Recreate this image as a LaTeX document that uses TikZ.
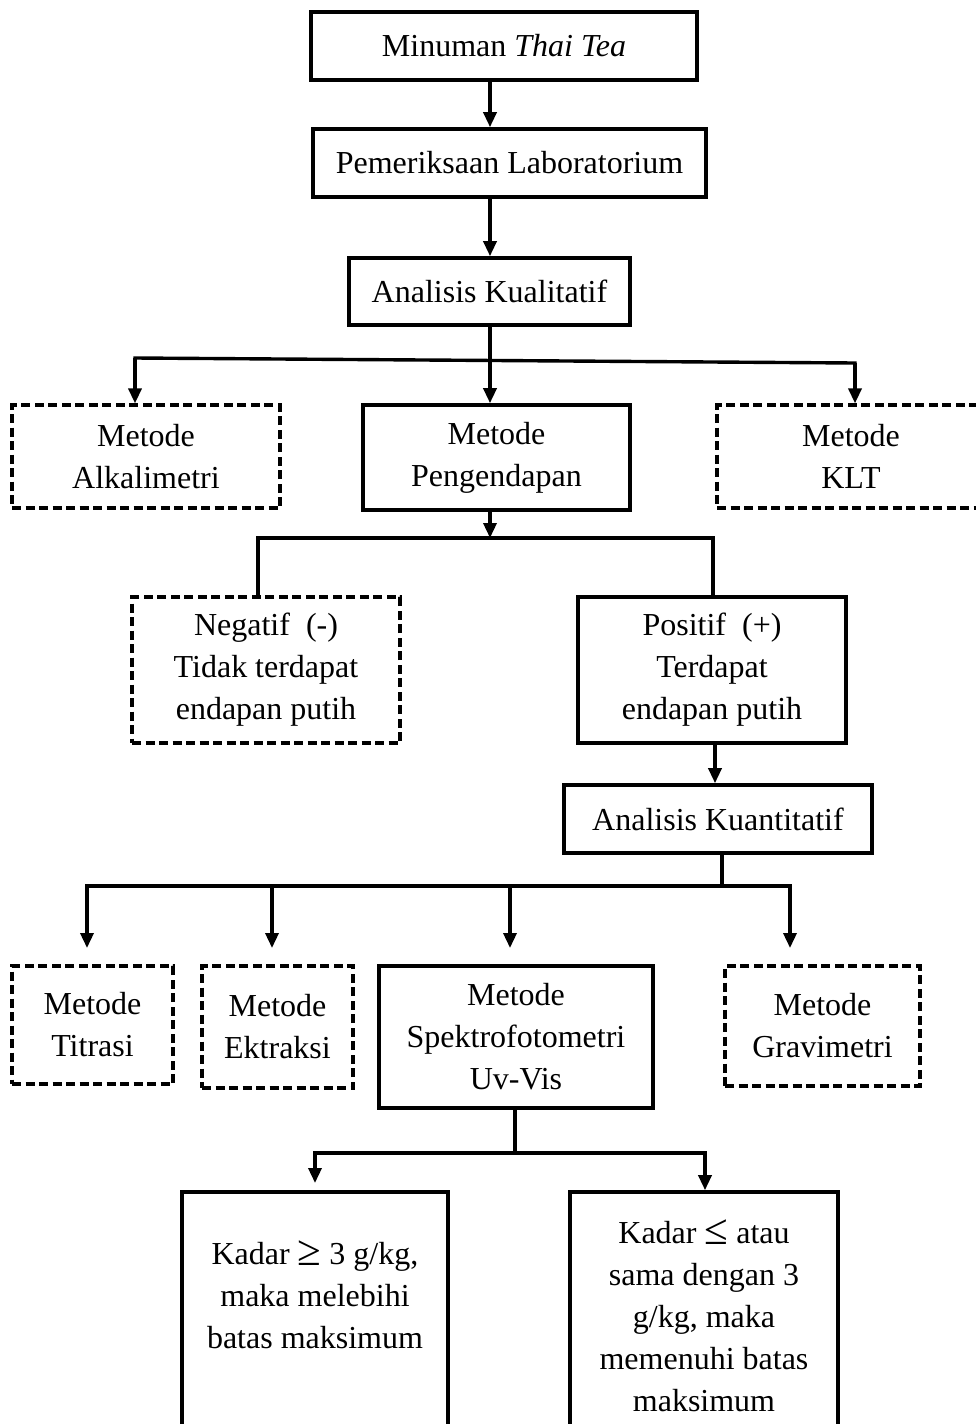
\documentclass[tikz,border=0pt]{standalone}
\usepackage{fontspec}
\usepackage{graphicx}
\setmainfont{Liberation Serif}
\usetikzlibrary{arrows.meta}
\newcommand{\bigsym}[1]{\raisebox{-1pt}{\scalebox{1.35}{#1}}}
\begin{document}
\begin{tikzpicture}[x=1pt,y=-1pt,
  box/.style={draw, line width=3.6pt, align=center, inner sep=0pt,
    font=\fontsize{32}{42}\selectfont},
  dbox/.style={box, line width=3.2pt, dash pattern=on 9pt off 4.5pt},
  conn/.style={line width=3.4pt},
  arr/.style={conn, -{Triangle[length=15pt,width=13pt]}}]
\clip (0,0) rectangle (976,1424);
\fill[white] (0,0) rectangle (976,1424);
% nodes
\node[box, minimum width=386pt, minimum height=68pt] (n1) at (504,46) {Minuman \textit{Thai Tea}};
\node[box, minimum width=393pt, minimum height=68pt] (n2) at (509.5,163) {Pemeriksaan Laboratorium};
\node[box, minimum width=281pt, minimum height=67pt] (n3) at (489.5,291.5) {Analisis Kualitatif};
\node[dbox, minimum width=268pt, minimum height=103pt] (alk) at (146,456.5) {Metode\\Alkalimetri};
\node[box, minimum width=267pt, minimum height=105pt] (pen) at (496.5,457.5) {Metode\\Pengendapan};
\node[dbox, minimum width=268pt, minimum height=103pt] (klt) at (851,456.5) {Metode\\KLT};
\node[dbox, minimum width=268pt, minimum height=146pt] (neg) at (266,670) {Negatif~ (-)\\Tidak terdapat\\endapan putih};
\node[box, minimum width=268pt, minimum height=146pt] (pos) at (712,670) {Positif~ (+)\\Terdapat\\endapan putih};
\node[box, minimum width=308pt, minimum height=68pt] (kuan) at (718,819) {Analisis Kuantitatif};
\node[dbox, minimum width=161pt, minimum height=118pt] (tit) at (92.5,1025) {Metode\\Titrasi};
\node[dbox, minimum width=151pt, minimum height=122pt] (ekt) at (277.5,1027) {Metode\\Ektraksi};
\node[box, minimum width=274pt, minimum height=142pt] (spe) at (516,1037) {Metode\\Spektrofotometri\\Uv-Vis};
\node[dbox, minimum width=195pt, minimum height=120pt] (gra) at (822.5,1026) {Metode\\Gravimetri};
\node[box, minimum width=266pt, minimum height=248pt] (kl) at (315,1316) {Kadar \bigsym{≥} 3 g/kg,\\maka melebihi\\batas maksimum\\};
\node[box, minimum width=268pt, minimum height=248pt] (kr) at (704,1316) {Kadar \bigsym{≤} atau\\sama dengan 3\\g/kg, maka\\memenuhi batas\\maksimum};
% coordinates
\coordinate (c490) at (490,0);
\coordinate (c715) at (715,0);
\coordinate (c722) at (722,0);
\coordinate (c515) at (515,0);
\coordinate (j1) at (490,360);
\coordinate (jl1) at (135,358);
\coordinate (jr1) at (855,363);
\coordinate (j2) at (490,538);
\coordinate (jl2) at (258,538);
\coordinate (jr2) at (713,538);
\coordinate (j3) at (722,886);
\coordinate (jl3) at (87,886);
\coordinate (jm3a) at (272,886);
\coordinate (jm3b) at (510,886);
\coordinate (jr3) at (790,886);
\coordinate (e1) at (87,948);
\coordinate (e2) at (272,948);
\coordinate (e3) at (510,948);
\coordinate (e4) at (790,948);
\coordinate (j4) at (515,1153);
\coordinate (jl4) at (315,1153);
\coordinate (jr4) at (705,1153);
\coordinate (e5) at (315,1183);
% connectors
\draw[arr] (n1.south -| c490) -- (n2.north -| c490);
\draw[arr] (n2.south -| c490) -- (n3.north -| c490);
\draw[conn] (n3.south -| c490) -- (j1);
\draw[conn, line cap=rect] (jl1) -- (jr1);
\draw[arr] (jl1) -- (alk.north -| jl1);
\draw[arr] (j1) -- (pen.north -| j1);
\draw[arr] (jr1) -- (klt.north -| jr1);
\draw[arr] (pen.south -| c490) -- (j2);
\draw[conn] (neg.north -| jl2) -- (jl2) -- (jr2) -- (pos.north -| jr2);
\draw[arr] (pos.south -| c715) -- (kuan.north -| c715);
\draw[conn] (kuan.south -| c722) -- (j3);
\draw[conn, line cap=rect] (jl3) -- (jr3);
\draw[arr] (jl3) -- (e1);
\draw[arr] (jm3a) -- (e2);
\draw[arr] (jm3b) -- (e3);
\draw[arr] (jr3) -- (e4);
\draw[conn] (spe.south -| c515) -- (j4);
\draw[conn, line cap=rect] (jl4) -- (jr4);
\draw[arr] (jl4) -- (e5);
\draw[arr] (jr4) -- (kr.north -| jr4);
\end{tikzpicture}
\end{document}
